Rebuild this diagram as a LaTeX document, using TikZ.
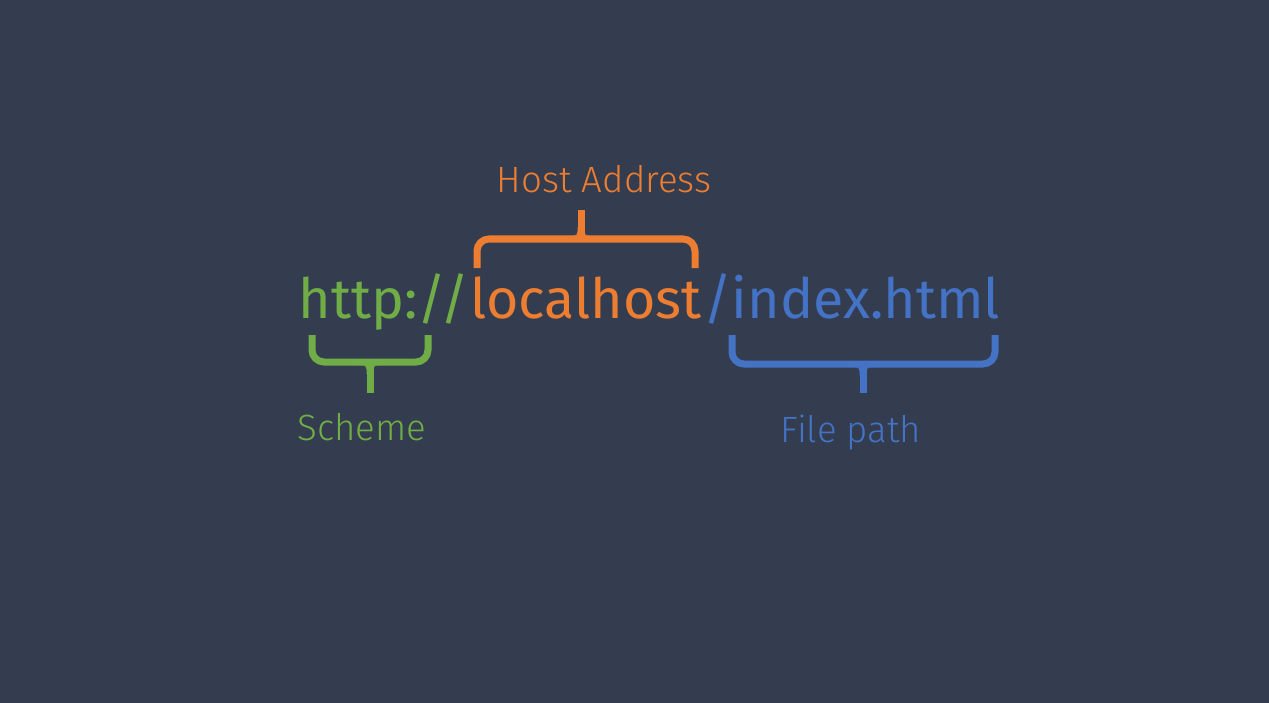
\documentclass[tikz,border=0pt]{standalone}
\usepackage{fontspec}
\setmainfont{Fira Sans}
\newfontfamily\lightfont{Fira Sans Light}
\usetikzlibrary{positioning}
\definecolor{bgnavy}{HTML}{343D4F}
\definecolor{schemegreen}{HTML}{70AD47}
\definecolor{hostorange}{HTML}{ED7D31}
\definecolor{pathblue}{HTML}{4472C4}

\begin{document}
\begin{tikzpicture}[x=0.01cm, y=-0.01cm,
    urlpart/.style={inner sep=0pt, anchor=base west, font=\fontsize{15.8}{18}\selectfont},
    partlabel/.style={inner sep=0pt, anchor=base, font=\lightfont\fontsize{10.4}{13}\selectfont},
    bracket/.style={line width=0.07cm, rounded corners=0.12cm}]
    \fill [bgnavy] (0,0) rectangle (1269,703);

    % the address
    \node [urlpart, text=schemegreen] (scheme) at (298,318) {http://};
    \node [urlpart, text=hostorange] (host) at (scheme.base east) {localhost};
    \node [urlpart, text=pathblue] (path) at (host.base east) {/index.html};

    % host brace (opens down)
    \draw [bracket, hostorange] (477,268) -- (477,239) -- (695,239) -- (695,268);
    \draw [line width=0.07cm, hostorange] (581,239) -- (581,210);
    \fill [hostorange] (569,235.6) .. controls (577.6,235.6) .. (577.6,227)
        -- (584.4,227) .. controls (584.4,235.6) .. (593,235.6) -- cycle;

    % scheme brace (opens up)
    \draw [bracket, schemegreen] (312,335) -- (312,362) -- (428,362) -- (428,335);
    \draw [line width=0.07cm, schemegreen] (370,362) -- (370,393);
    \fill [schemegreen] (358,365.4) .. controls (366.6,365.4) .. (366.6,374)
        -- (373.4,374) .. controls (373.4,365.4) .. (382,365.4) -- cycle;

    % file path brace (opens up)
    \draw [bracket, pathblue] (732,335) -- (732,364) -- (995,364) -- (995,335);
    \draw [line width=0.07cm, pathblue] (863,364) -- (863,393);
    \fill [pathblue] (851,367.4) .. controls (859.6,367.4) .. (859.6,376)
        -- (866.4,376) .. controls (866.4,367.4) .. (875,367.4) -- cycle;

    % labels
    \node [partlabel, text=hostorange] (hostlabel) at (604,192) {Host Address};
    \node [partlabel, text=schemegreen] (schemelabel) at (362,440) {Scheme};
    \node [partlabel, text=pathblue] (pathlabel) at (851,442) {File path};
\end{tikzpicture}
\end{document}
